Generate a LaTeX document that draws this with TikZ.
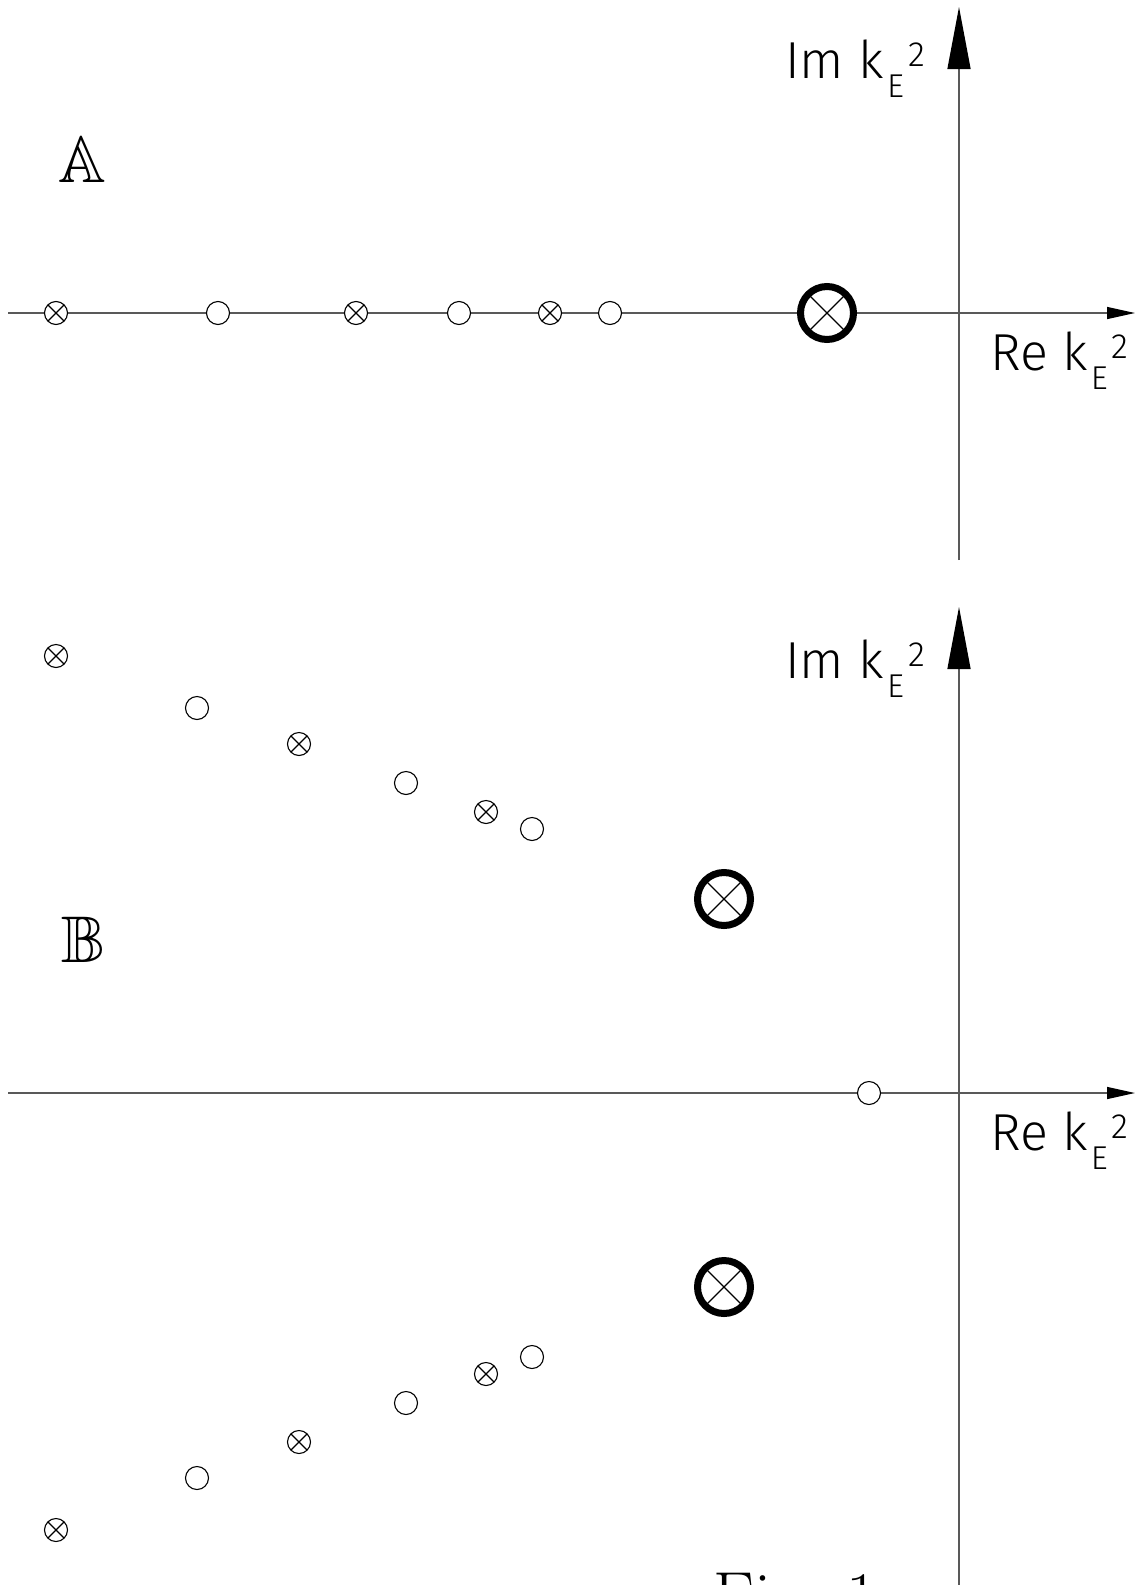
\documentclass[tikz,border=0pt]{standalone}
\usepackage{fontspec}
\usepackage{amssymb}
\newfontfamily\axisfont{Fira Sans Light}
\usetikzlibrary{arrows.meta, positioning}

% k_E^2 as printed on the axes
\newcommand{\kEsq}{k\hspace{3pt}\raisebox{-19pt}{\fontsize{33}{33}\selectfont E}\hspace{4pt}\raisebox{12pt}{\fontsize{35}{35}\selectfont 2}}

\begin{document}
\begin{tikzpicture}[
    x=1pt, y=-1pt,
    % Define styles
    axis/.style={draw=black!65, line width=1.3pt},
    realaxis/.style={axis, -{Triangle[length=28pt, width=12pt, color=black]}},
    imagaxis/.style={axis, -{Triangle[length=62pt, width=23pt, color=black]}},
    ring/.style={circle, draw, fill=white, line width=1.1pt, minimum size=23pt, inner sep=0pt},
    crossring/.style={ring, path picture={
        \draw[line width=1.1pt] (path picture bounding box.north west) -- (path picture bounding box.south east)
                                (path picture bounding box.north east) -- (path picture bounding box.south west);}},
    bigcross/.style={crossring, line width=7pt, minimum size=53pt},
    axislabel/.style={anchor=base west, inner sep=0pt, font=\axisfont\fontsize{52}{52}\selectfont},
    panel/.style={anchor=base west, inner sep=0pt, font=\fontsize{66}{66}\selectfont}
]
\useasboundingbox (0,0) rectangle (1142,1585);

% 1. Panel A: axes
\coordinate (A-west) at (8,313);
\coordinate (A-east) at (1135,313);
\coordinate (A-south) at (959,560);
\coordinate (A-north) at (959,7);
\draw[realaxis] (A-west) -- (A-east);
\draw[imagaxis] (A-south) -- (A-north);
\node[axislabel] (A-im) at (785,78) {Im \kEsq};
\node[axislabel] (A-re) at (990,370) {Re \kEsq};
\node[panel] (A-name) at (58,182) {$\mathbb{A}$};

% Panel A: points on the real axis
\node[crossring] (a1) at (56,313) {};
\node[ring] (a2) at (218,313) {};
\node[crossring] (a3) at (356,313) {};
\node[ring] (a4) at (459,313) {};
\node[crossring] (a5) at (550,313) {};
\node[ring] (a6) at (610,313) {};
\node[bigcross] (a7) at (827,313) {};

% 2. Panel B: axes
\coordinate (B-west) at (8,1093);
\coordinate (B-east) at (1135,1093);
\coordinate (B-south) at (959,1600);
\coordinate (B-north) at (959,607);
\draw[realaxis] (B-west) -- (B-east);
\draw[imagaxis] (B-south) -- (B-north);
\node[axislabel] (B-im) at (785,678) {Im \kEsq};
\node[axislabel] (B-re) at (990,1150) {Re \kEsq};
\node[panel] (B-name) at (61,962) {$\mathbb{B}$};

% Panel B: upper half plane
\node[crossring] (b1) at (56,656) {};
\node[ring] (b2) at (197,708) {};
\node[crossring] (b3) at (299,744) {};
\node[ring] (b4) at (406,783) {};
\node[crossring] (b5) at (486,812) {};
\node[ring] (b6) at (532,829) {};
\node[bigcross] (b7) at (724,899) {};

% Panel B: on the axis
\node[ring] (b0) at (869,1093) {};

% Panel B: lower half plane (mirror)
\node[bigcross] (c7) at (724,1287) {};
\node[ring] (c6) at (532,1357) {};
\node[crossring] (c5) at (486,1374) {};
\node[ring] (c4) at (406,1403) {};
\node[crossring] (c3) at (299,1442) {};
\node[ring] (c2) at (197,1478) {};
\node[crossring] (c1) at (56,1530) {};

% 3. Caption, cut by the page edge
\node[anchor=base west, inner sep=0pt, font=\fontsize{68}{68}\selectfont] (caption) at (713,1619) {Fig. 1};

\end{tikzpicture}
\end{document}
